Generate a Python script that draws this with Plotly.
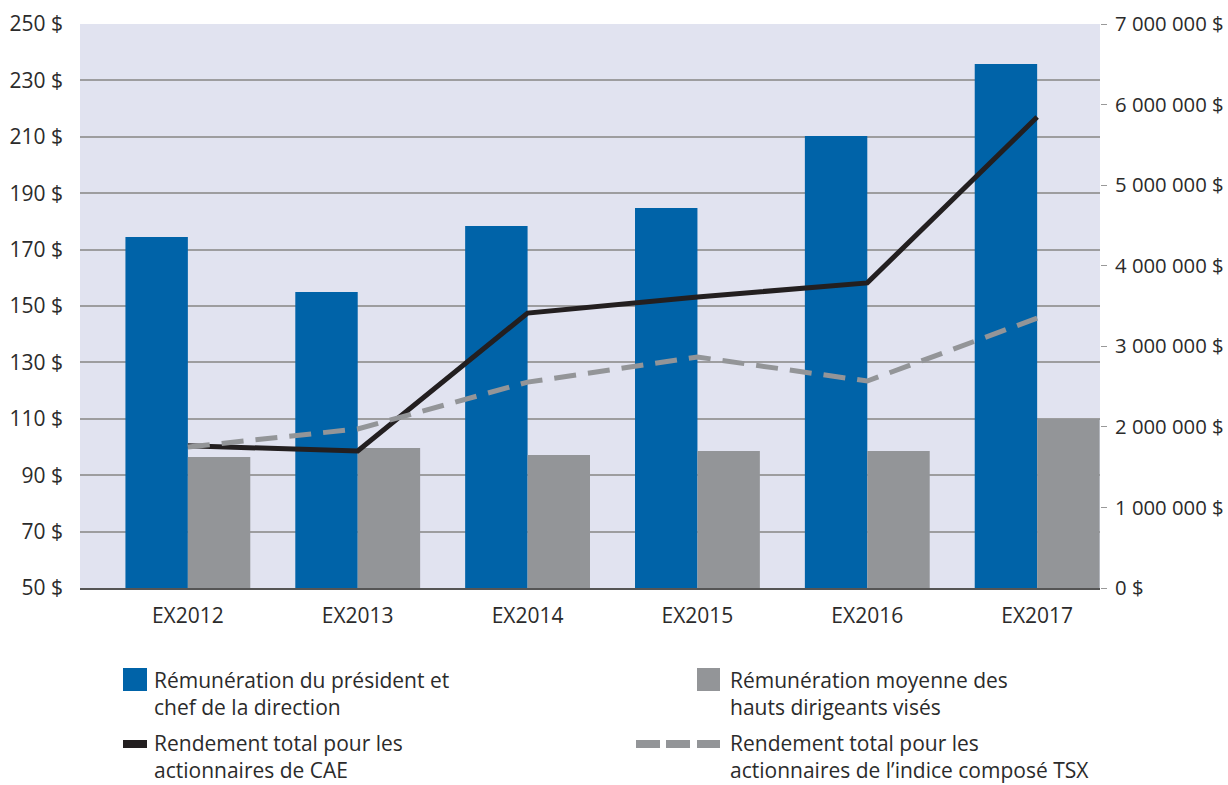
import plotly.graph_objects as go

categories = ["EX2012", "EX2013", "EX2014", "EX2015", "EX2016", "EX2017"]
ceo_pay = [4356000, 3674000, 4493000, 4716000, 5610000, 6504000]
neo_avg_pay = [1626000, 1738000, 1651000, 1700000, 1700000, 2098000]
cae_tsr = [100.4, 98.6, 147.5, 153.2, 158.2, 217.0]
tsx_tsr = [100.0, 106.4, 123.0, 131.9, 123.4, 145.7]

left_ticks = [50, 70, 90, 110, 130, 150, 170, 190, 210, 230, 250]
left_ticktext = ["50 $", "70 $", "90 $", "110 $", "130 $", "150 $", "170 $", "190 $",
                 "210 $", "230 $", "250 $"]
right_ticks = [0, 1000000, 2000000, 3000000, 4000000, 5000000, 6000000, 7000000]
right_ticktext = ["0 $", "1 000 000 $", "2 000 000 $", "3 000 000 $", "4 000 000 $",
                  "5 000 000 $", "6 000 000 $", "7 000 000 $"]

legend_labels = [
    "Rémunération du président et<br>chef de la direction",
    "Rémunération moyenne des<br>hauts dirigeants visés",
    "Rendement total pour les<br>actionnaires de CAE",
    "Rendement total pour les<br>actionnaires de l’indice composé TSX",
]

BLUE = "#0063A8"
GRAY = "#939598"
BLACK = "#231F20"
DGRAY = "#939598"
FONT = "Open Sans"
TXT = "#2b2b2b"
FS = 21

fig = go.Figure()
fig.add_trace(go.Bar(x=categories, y=ceo_pay, marker=dict(color=BLUE, line=dict(width=0)),
                     name=legend_labels[0], yaxis="y"))
fig.add_trace(go.Bar(x=categories, y=neo_avg_pay, marker=dict(color=GRAY, line=dict(width=0)),
                     name=legend_labels[1], yaxis="y"))
fig.add_trace(go.Scatter(x=categories, y=cae_tsr, mode="lines", line=dict(color=BLACK, width=5),
                         name=legend_labels[2], yaxis="y2"))
fig.add_trace(go.Scatter(x=categories, y=tsx_tsr, mode="lines",
                         line=dict(color=DGRAY, width=5, dash="22px,12px"),
                         name=legend_labels[3], yaxis="y2"))

L, R, T, B = 80, 1100, 24, 588
W, H = R - L, B - T
def px(x): return (x - L) / W
def py(y): return (B - y) / H

shapes = [
    dict(type="rect", xref="paper", yref="paper", x0=px(123), x1=px(147), y0=py(691), y1=py(668),
         fillcolor=BLUE, line=dict(width=0)),
    dict(type="rect", xref="paper", yref="paper", x0=px(697), x1=px(720), y0=py(691), y1=py(668),
         fillcolor=GRAY, line=dict(width=0)),
    dict(type="rect", xref="paper", yref="paper", x0=px(123), x1=px(147), y0=py(748), y1=py(740),
         fillcolor=BLACK, line=dict(width=0)),
]
for a, b in [(636, 660), (666, 690), (697, 720)]:
    shapes.append(dict(type="rect", xref="paper", yref="paper", x0=px(a), x1=px(b),
                       y0=py(748), y1=py(740), fillcolor=DGRAY, line=dict(width=0)))

annotations = []
for label, x, y in [(legend_labels[0], 152, 664), (legend_labels[1], 728, 664),
                    (legend_labels[2], 152, 727), (legend_labels[3], 728, 727)]:
    annotations.append(dict(text=label, xref="paper", yref="paper", x=px(x), y=py(y),
                            xanchor="left", yanchor="top", align="left", showarrow=False,
                            font=dict(family=FONT, size=FS, color=TXT)))

fig.update_layout(
    width=1228, height=785,
    margin=dict(l=L, r=1228 - R, t=T, b=785 - B, autoexpand=False),
    paper_bgcolor="white", plot_bgcolor="#E1E3F0",
    barmode="group", bargap=0.265, bargroupgap=0,
    showlegend=False,
    font=dict(family=FONT, size=FS, color=TXT),
    xaxis=dict(type="category", range=[-0.635, 5.37], showgrid=False, showline=True,
               linecolor="#555555", linewidth=2,
               ticks="", tickfont=dict(size=FS, color=TXT), ticklabelstandoff=8,
               automargin=False),
    yaxis=dict(side="right", range=[0, 7000000], tickvals=right_ticks, ticktext=right_ticktext,
               showgrid=False, zeroline=False, ticks="outside", ticklen=6,
               tickcolor="#999999", tickfont=dict(size=20.3, color=TXT), ticklabelstandoff=4,
               automargin=False),
    yaxis2=dict(side="left", overlaying="y", range=[50, 250], tickvals=left_ticks,
                ticktext=left_ticktext, showgrid=True, gridcolor="#9d9d9f", gridwidth=1.5,
                zeroline=False, ticks="", tickfont=dict(size=FS, color=TXT), ticklabelstandoff=16,
                automargin=False),
    shapes=shapes, annotations=annotations,
)

fig.write_html("out.html")
